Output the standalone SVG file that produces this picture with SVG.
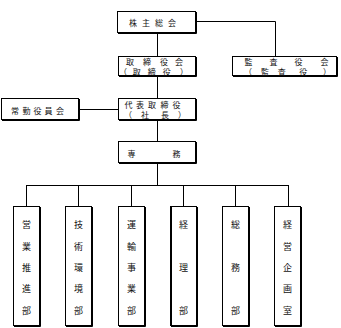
<svg xmlns="http://www.w3.org/2000/svg" width="341" height="328" viewBox="0 0 341 328">
<style>
.box{fill:#fff;stroke:#000;stroke-width:1}
.sh{fill:none;stroke:#000;stroke-width:1}
.ln{fill:none;stroke:#000;stroke-width:1}
text{font-family:"Noto Sans CJK JP","Noto Sans CJK SC",sans-serif;font-size:8px;fill:#111;text-anchor:middle;dominant-baseline:central}
.d{font-size:9px}
</style>
<rect width="341" height="328" fill="#fff"/>
<g id="connectors">
<path class="ln" d="M157.5 33 V56 M157.5 76 V98 M157.5 120 V141 M157.5 163 V185.5"/>
<path class="ln" d="M196 21.5 H275.5 V56"/>
<path class="ln" d="M79 109.5 H118"/>
<path class="ln" d="M26.5 185.5 H288.5 M26.5 185 V206 M78.5 185 V206 M131.5 185 V206 M183.5 185 V206 M235.5 185 V206 M288.5 185 V206"/>
</g>
<g id="kabunushi">
<rect class="box" x="117.5" y="11.5" width="78" height="21"/>
<path class="sh" d="M196.5 12 V33.5 H118"/>
<text x="133 139.5 146 152.5 159 165.5 172" y="22.5" xml:space="preserve">株 主 総 会</text>
</g>
<g id="torishimariyakukai">
<rect class="box" x="118.5" y="56.5" width="77" height="19"/>
<path class="sh" d="M196.5 57 V76.5 H119"/>
<text x="130 138.5 147 155.5 164 171.5 179" y="61" xml:space="preserve">取 締 役 会</text>
<text x="123 130 136.7 144 151.7 159 166.7 175 184" y="71" xml:space="preserve">（ 取 締 役 ）</text>
</g>
<g id="kansayakukai">
<rect class="box" x="232.5" y="56.5" width="104" height="19"/>
<path class="sh" d="M337.5 57 V76.5 H233"/>
<text x="248.5 261 273.5 286 298.5 311.5 324.5" y="61" xml:space="preserve">監 査 役 会</text>
<text x="248 256.5 265 273.5 281.7 292.5 303.3 314 327" y="71" xml:space="preserve">（ 監 査 役 ）</text>
</g>
<g id="daihyo">
<rect class="box" x="118.5" y="98.5" width="77" height="21"/>
<path class="sh" d="M196.5 99 V120.5 H119"/>
<text x="128.5 140 152 164.5 176.5" y="104">代表取締役</text>
<text x="128 137 145 155 165 173 182" y="114" xml:space="preserve">（ 社 長 ）</text>
</g>
<g id="jokin">
<rect class="box" x="1.5" y="98.5" width="77" height="21"/>
<path class="sh" d="M79.5 99 V120.5 H2"/>
<text x="15 26.5 37.5 48.5 60" y="110">常勤役員会</text>
</g>
<g id="senmu">
<rect class="box" x="118.5" y="141.5" width="77" height="21"/>
<path class="sh" d="M196.5 142 V163.5 H119"/>
<text x="131.5 154 176.5" y="153" xml:space="preserve">専 務</text>
</g>
<g id="eigyo">
<rect class="box" x="13.5" y="206.5" width="26" height="119"/>
<path class="sh" d="M40.5 207 V326.5 H14"/>
<text class="d" x="26.5" y="224.5">営</text><text class="d" x="26.5" y="246">業</text><text class="d" x="26.5" y="267">推</text><text class="d" x="26.5" y="288.5">進</text><text class="d" x="26.5" y="310">部</text>
</g>
<g id="gijutsu">
<rect class="box" x="65.5" y="206.5" width="26" height="119"/>
<path class="sh" d="M92.5 207 V326.5 H66"/>
<text class="d" x="78.5" y="224.5">技</text><text class="d" x="78.5" y="246">術</text><text class="d" x="78.5" y="267">環</text><text class="d" x="78.5" y="288.5">境</text><text class="d" x="78.5" y="310">部</text>
</g>
<g id="unyu">
<rect class="box" x="118.5" y="206.5" width="26" height="119"/>
<path class="sh" d="M145.5 207 V326.5 H119"/>
<text class="d" x="131.5" y="224.5">運</text><text class="d" x="131.5" y="246">輸</text><text class="d" x="131.5" y="267">事</text><text class="d" x="131.5" y="288.5">業</text><text class="d" x="131.5" y="310">部</text>
</g>
<g id="keiri">
<rect class="box" x="170.5" y="206.5" width="26" height="119"/>
<path class="sh" d="M171.5 207 V326.5 M197.5 207 V326.5 H171"/>
<text class="d" x="183.5" y="224.5">経</text><text class="d" x="183.5" y="267">理</text><text class="d" x="183.5" y="310">部</text>
</g>
<g id="somu">
<rect class="box" x="222.5" y="206.5" width="26" height="119"/>
<path class="sh" d="M249.5 207 V326.5 H223"/>
<text class="d" x="235.5" y="224.5">総</text><text class="d" x="235.5" y="267">務</text><text class="d" x="235.5" y="310">部</text>
</g>
<g id="keiei">
<rect class="box" x="274.5" y="206.5" width="26" height="119"/>
<path class="sh" d="M301.5 207 V326.5 H275"/>
<text class="d" x="287.5" y="224.5">経</text><text class="d" x="287.5" y="246">営</text><text class="d" x="287.5" y="267">企</text><text class="d" x="287.5" y="288.5">画</text><text class="d" x="287.5" y="310">室</text>
</g>
</svg>
